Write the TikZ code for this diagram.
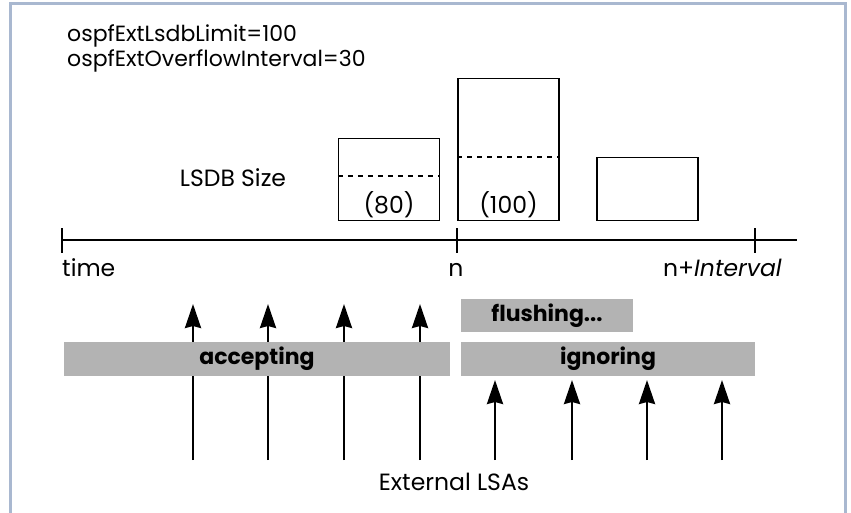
\documentclass[tikz,border=0pt]{standalone}
\usepackage{fontspec}
\setmainfont{Poppins}
\usepackage{tikz}
\usetikzlibrary{arrows.meta,positioning,calc}
\definecolor{framecol}{HTML}{A9B8D0}
\definecolor{barcol}{HTML}{B3B3B3}

\begin{document}
\begin{tikzpicture}[
    x=1pt, y=-1pt,
    every node/.style={font=\fontsize{23.5}{26}\selectfont, inner sep=0pt},
    param/.style={anchor=base west, font=\fontsize{22}{26}\selectfont},
    sizebox/.style={draw, line width=1.4pt, rectangle, minimum width=101pt, anchor=south},
    statebar/.style={fill=barcol, rectangle, minimum height=34pt, font=\fontsize{22}{26}\selectfont\bfseries},
    limitline/.style={line width=2pt, dash pattern=on 5pt off 5pt},
    tick/.style={line width=2.6pt},
    lsa/.style={-{Stealth[length=24pt,width=16pt,inset=2pt]}, line width=2.6pt}
]
\useasboundingbox (0,0) rectangle (851,512);

% Frame
\draw[framecol, line width=3pt] (10,3) rectangle (845,530);

% Parameters
\node[param] (limit) at (67,41) {ospfExtLsdbLimit=100};
\node[param] (interval) at (67,66) {ospfExtOverflowInterval=30};

% LSDB sizes
\node[anchor=base] (sizelabel) at (233,186) {LSDB Size};
\node[sizebox, minimum height=82pt] (size80) at (389,221) {};
\node[sizebox, minimum height=142pt] (size100) at (508.5,221) {};
\node[sizebox, minimum height=63pt] (sizenext) at (647.5,221) {};
\draw[limitline] (size80.west |- 0,176) -- (size80.east |- 0,176);
\draw[limitline] (size100.west |- 0,157) -- (size100.east |- 0,157);
\node[anchor=base] (val80) at (389,213) {(80)};
\node[anchor=base] (val100) at (508.5,213) {(100)};

% Time axis
\coordinate (tstart) at (62,240);
\coordinate (tn) at (457,240);
\coordinate (tint) at (755,240);
\coordinate (tend) at (797,240);
\draw[line width=1.3pt] (tstart) -- (tend);
\foreach \t in {tstart,tn,tint}
    \draw[tick] ($(\t)+(0,-12)$) -- ($(\t)+(0,13)$);
\node[anchor=base west] (time) at (62,276) {time};
\node[anchor=base] (nlabel) at (456,276) {n};
\node[anchor=base east] (nint) at (782,276) {n+\textit{Interval}};

% External LSAs
\foreach \x [count=\i] in {193,268,344,420} {
    \coordinate (acc\i) at (\x,460);
    \coordinate (acctip\i) at (\x,304);
    \draw[lsa] (acc\i) -- (acctip\i);
}
\foreach \x [count=\i] in {495,572,647,722} {
    \coordinate (ign\i) at (\x,460);
    \coordinate (igntip\i) at (\x,380);
    \draw[lsa] (ign\i) -- (igntip\i);
}
\node[anchor=base] (extlsa) at (454,490) {External LSAs};

% States
\node[statebar, minimum width=386pt] (accepting) at (257,359) {accepting};
\node[statebar, minimum width=294pt] (ignoring) at (608,359) {ignoring};
\node[statebar, minimum width=172pt, minimum height=33pt] (flushing) at (547,315.5) {flushing...};

\end{tikzpicture}
\end{document}
